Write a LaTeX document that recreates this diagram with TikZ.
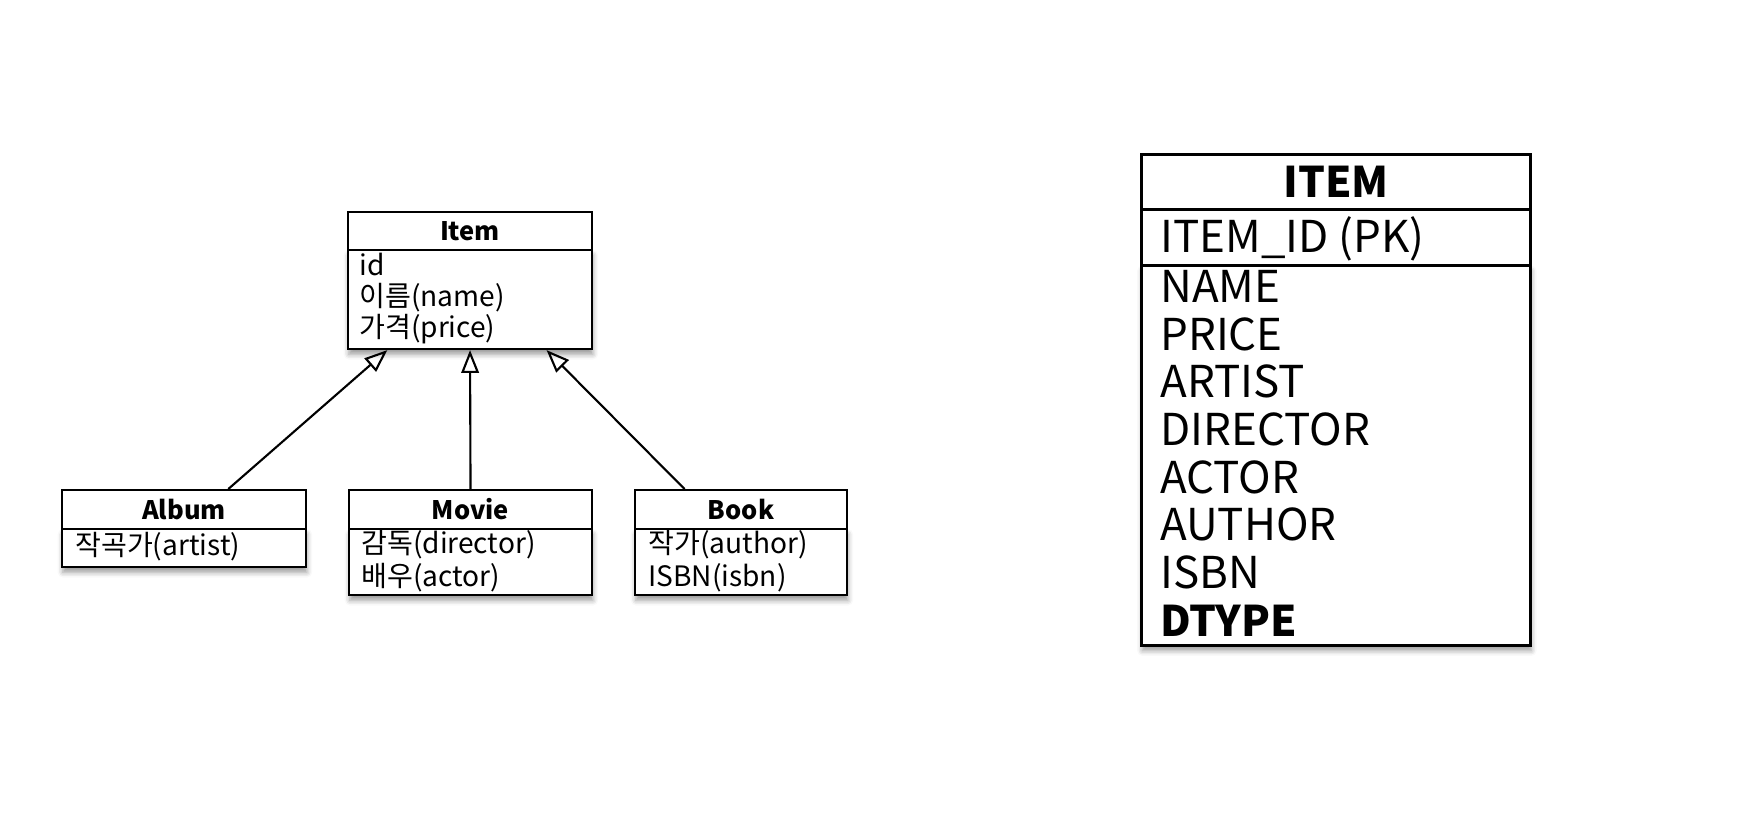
\documentclass[tikz,border=0pt]{standalone}
\usepackage{fontspec}
\setmainfont{Noto Sans CJK KR}
\usetikzlibrary{arrows.meta,calc,shadows.blur}

\begin{document}
\begin{tikzpicture}[x=0.02cm, y=-0.02cm,
    cls/.style = {draw, line width=1.2pt, fill=white, inner sep=0pt, anchor=north west},
    clshead/.style = {cls, font={\fontsize{14.5}{17}\selectfont\bfseries}},
    clsbody/.style = {cls, blur shadow={shadow xshift=0.5pt, shadow yshift=-3pt, shadow blur radius=3pt, shadow opacity=40}},
    attr/.style = {anchor=base west, inner sep=0pt, font={\fontsize{16}{18}\selectfont}},
    tbl/.style = {draw, line width=1.7pt, fill=white, inner sep=0pt, anchor=north west},
    col/.style = {anchor=base west, inner sep=0pt, font={\fontsize{25}{27}\selectfont}},
    inherit/.style = {line width=1.2pt, -{Triangle[open, length=13pt, width=10pt]}}]
                \useasboundingbox (0,0) rectangle (1744,816);
                % class diagram
                \node[clshead, minimum width=4.88cm, minimum height=0.76cm] (itemhead) at (347,211) {Item};
                \node[clsbody, minimum width=4.88cm, minimum height=1.98cm] (itembody) at (347,249) {};
                \node[attr] (itemid) at (359,275) {id};
                \node[attr] (itemname) at (359,306) {이름(name)};
                \node[attr] (itemprice) at (359,337) {가격(price)};
                \node[clshead, minimum width=4.88cm, minimum height=0.78cm] (albumhead) at (61,489) {Album};
                \node[clsbody, minimum width=4.88cm, minimum height=0.76cm] (albumbody) at (61,528) {};
                \node[attr] (albumartist) at (75,555) {작곡가(artist)};
                \node[clshead, minimum width=4.86cm, minimum height=0.78cm] (moviehead) at (348,489) {Movie};
                \node[clsbody, minimum width=4.86cm, minimum height=1.32cm] (moviebody) at (348,528) {};
                \node[attr] (moviedirector) at (361,553) {감독(director)};
                \node[attr] (movieactor) at (361,586) {배우(actor)};
                \node[clshead, minimum width=4.24cm, minimum height=0.78cm] (bookhead) at (634,489) {Book};
                \node[clsbody, minimum width=4.24cm, minimum height=1.32cm] (bookbody) at (634,528) {};
                \node[attr] (bookauthor) at (648,553) {작가(author)};
                \node[attr] (bookisbn) at (648,586) {ISBN(isbn)};
                \path[inherit] ($(albumhead.north west)!0.68!(albumhead.north east)$) edge ($(itembody.south west)!0.164!(itembody.south east)$);
                \path[inherit] (moviehead.north) edge (itembody.south);
                \path[inherit] ($(bookhead.north west)!0.236!(bookhead.north east)$) edge ($(itembody.south west)!0.811!(itembody.south east)$);
                % table
                \node[tbl, minimum width=7.78cm, minimum height=1.1cm, font={\fontsize{24}{27}\selectfont\bfseries}] (tblhead) at (1140,153) {ITEM};
                \node[tbl, minimum width=7.78cm, minimum height=1.12cm] (tblkey) at (1140,208) {};
                \node[tbl, minimum width=7.78cm, minimum height=7.6cm, blur shadow={shadow xshift=0.5pt, shadow yshift=-3pt, shadow blur radius=3pt, shadow opacity=40}] (tblbody) at (1140,264) {};
                \node[col] (itemidpk) at (1160,252) {ITEM\_ID (PK)};
                \node[col] (name) at (1160,302) {NAME};
                \node[col] (price) at (1160,350) {PRICE};
                \node[col] (artist) at (1160,397) {ARTIST};
                \node[col] (director) at (1160,445) {DIRECTOR};
                \node[col] (actor) at (1160,493) {ACTOR};
                \node[col] (author) at (1160,540) {AUTHOR};
                \node[col] (isbn) at (1160,588) {ISBN};
                \node[col, font={\fontsize{24}{27}\selectfont\bfseries}] (dtype) at (1160,636) {DTYPE};
            \end{tikzpicture}
\end{document}
